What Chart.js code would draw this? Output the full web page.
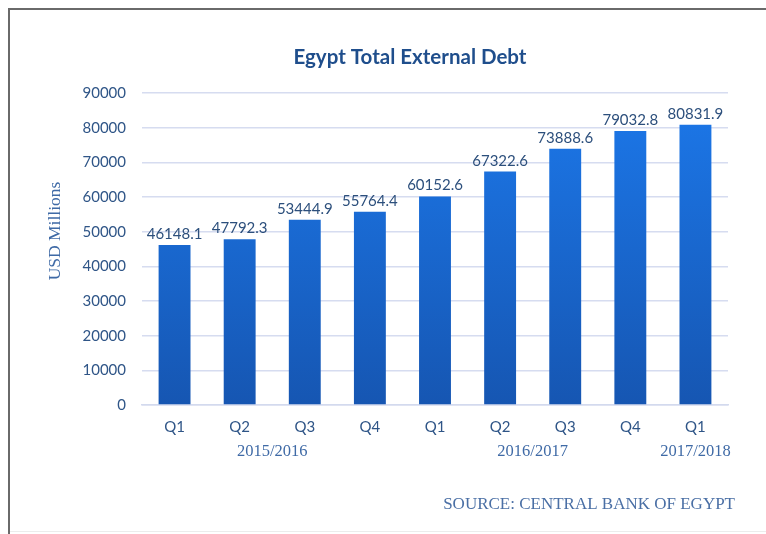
<!DOCTYPE html>
<html>
<head>
<meta charset="utf-8">
<script src="https://cdn.jsdelivr.net/npm/chart.js@4"></script>
<style>
  html, body { margin: 0; padding: 0; background: #ffffff; }
  #c { display: block; }
</style>
</head>
<body>
<canvas id="c" width="766" height="534"></canvas>
<script>
const categories = ['Q1', 'Q2', 'Q3', 'Q4', 'Q1', 'Q2', 'Q3', 'Q4', 'Q1'];
const debt = [46148.1, 47792.3, 53444.9, 55764.4, 60152.6, 67322.6, 73888.6, 79032.8, 80831.9];
const fiscalYears = ['2015/2016', '2016/2017', '2017/2018'];
const yearFirstIndex = [0, 4, 8];
const yearLastIndex = [3, 7, 8];
const titleText = 'Egypt Total External Debt';
const yAxisTitle = 'USD Millions';
const sourceText = 'SOURCE: CENTRAL BANK OF EGYPT';

const sansFont = 'Lato, "Open Sans", "Noto Sans", sans-serif';
const serifFont = '"Liberation Serif", "DejaVu Serif", serif';

const decorPlugin = {
  id: 'decor',
  beforeDraw(chart) {
    const ctx = chart.ctx;
    ctx.save();
    ctx.fillStyle = '#ffffff';
    ctx.fillRect(0, 0, chart.width, chart.height);
    ctx.strokeStyle = '#6a6a6a';
    ctx.lineWidth = 2;
    ctx.beginPath();
    ctx.moveTo(9, chart.height);
    ctx.lineTo(9, 9);
    ctx.lineTo(chart.width, 9);
    ctx.stroke();
    ctx.strokeStyle = '#ececec';
    ctx.lineWidth = 1;
    ctx.beginPath();
    ctx.moveTo(10, 531.5);
    ctx.lineTo(chart.width, 531.5);
    ctx.stroke();
    ctx.restore();
  },
  afterDraw(chart) {
    const ctx = chart.ctx;
    const xs = chart.scales.x;
    const meta = chart.getDatasetMeta(0);
    ctx.save();
    // title
    ctx.fillStyle = '#1f4e8c';
    ctx.font = 'bold 20.5px ' + sansFont;
    ctx.textAlign = 'center';
    ctx.textBaseline = 'middle';
    ctx.fillText(titleText, 410, 57);
    // value labels
    ctx.fillStyle = '#2c4f7c';
    ctx.font = '15px ' + sansFont;
    ctx.textBaseline = 'alphabetic';
    meta.data.forEach((bar, i) => {
      ctx.fillText(debt[i].toFixed(1), bar.x, bar.y - 6);
    });
    // fiscal year labels
    ctx.fillStyle = '#3f6aa6';
    ctx.font = '16.5px ' + serifFont;
    ctx.textBaseline = 'middle';
    fiscalYears.forEach((label, i) => {
      const x = (xs.getPixelForValue(yearFirstIndex[i]) + xs.getPixelForValue(yearLastIndex[i])) / 2;
      ctx.fillText(label, x, 452);
    });
    // source
    ctx.fillStyle = '#4a6fa5';
    ctx.font = '17px ' + serifFont;
    ctx.textAlign = 'right';
    ctx.fillText(sourceText, 735, 505);
    // y axis title
    ctx.fillStyle = '#3f6aa6';
    ctx.font = '17.5px ' + serifFont;
    ctx.textAlign = 'center';
    ctx.translate(55, 231);
    ctx.rotate(-Math.PI / 2);
    ctx.fillText(yAxisTitle, 0, 0);
    ctx.restore();
  }
};

new Chart(document.getElementById('c'), {
  type: 'bar',
  data: {
    labels: categories,
    datasets: [{
      data: debt,
      backgroundColor(context) {
        const area = context.chart.chartArea;
        if (!area) return '#1a6fdc';
        const g = context.chart.ctx.createLinearGradient(0, area.top, 0, area.bottom);
        g.addColorStop(0, '#1c78ea');
        g.addColorStop(1, '#1656b2');
        return g;
      },
      borderWidth: 0,
      categoryPercentage: 1.0,
      barPercentage: 0.49
    }]
  },
  options: {
    responsive: false,
    animation: false,
    devicePixelRatio: 1,
    layout: { padding: { top: 93, right: 38, left: 0, bottom: 0 } },
    plugins: {
      legend: { display: false },
      title: { display: false },
      tooltip: { enabled: false }
    },
    scales: {
      x: {
        afterFit(scale) { scale.height = 129; },
        grid: { display: false, drawTicks: false },
        border: { display: true, color: '#d3daee', width: 1.5 },
        ticks: {
          padding: 13,
          color: '#2f5587',
          font: { family: sansFont, size: 15 }
        }
      },
      y: {
        min: 0,
        max: 90000,
        afterFit(scale) { scale.width = 142; },
        grid: { color: '#d6dcf0', lineWidth: 1.5, drawTicks: false },
        border: { display: false },
        ticks: {
          stepSize: 10000,
          padding: 16,
          color: '#2f5587',
          font: { family: sansFont, size: 15 },
          callback: (v) => String(v)
        }
      }
    }
  },
  plugins: [decorPlugin]
});
</script>
</body>
</html>
